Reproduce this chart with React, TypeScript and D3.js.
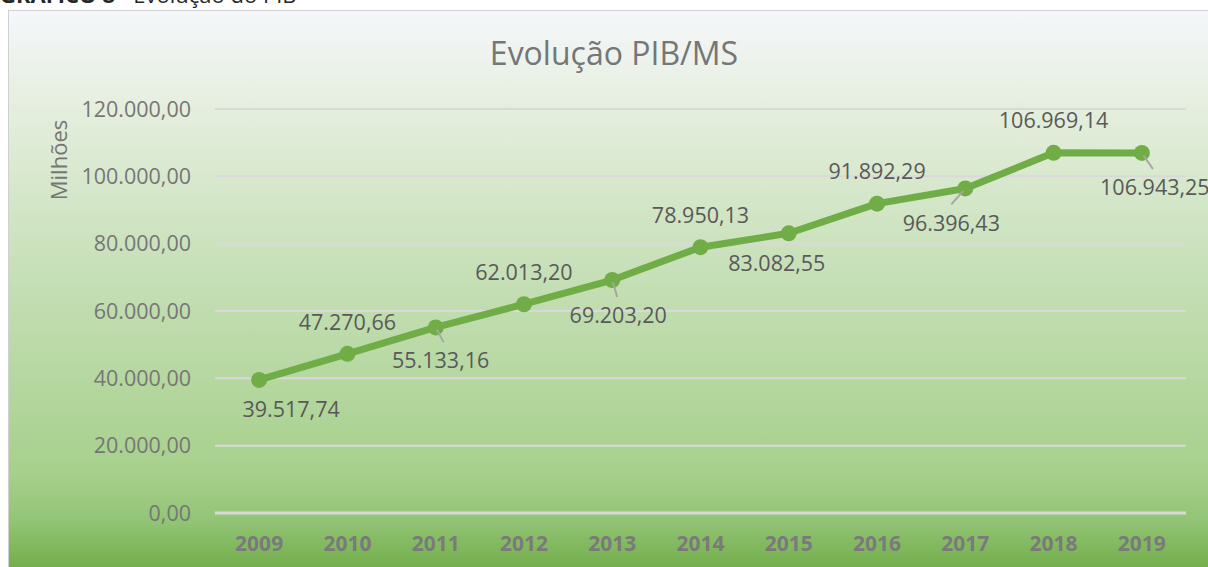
import React from "react";
import * as d3 from "d3";

const years = ["2009", "2010", "2011", "2012", "2013", "2014", "2015", "2016", "2017", "2018", "2019"];
const pib = [39517.74, 47270.66, 55133.16, 62013.2, 69203.2, 78950.13, 83082.55, 91892.29, 96396.43, 106969.14, 106943.25];
const yTicks = [0, 20000, 40000, 60000, 80000, 100000, 120000];
// label placement (style): offset of label centre from its point, and optional leader line end
const labelDx = [32, 0, 5, 0, 6, 0, -12, 0, -14, 0, 13];
const labelDy = [30, -31, 33, -32, 35, -32, 30, -32, 35, -32, 35];
const leader: ([number, number] | null)[] = [null, null, [8, 15], null, [5, 17], null, null, null, [-14, 16], null, [11, 16]];

const fmt = (v: number) => {
  const s = v.toFixed(2);
  const [i, d] = s.split(".");
  return i.replace(/\B(?=(\d{3})+(?!\d))/g, ".") + "," + d;
};

const W = 1208;
const H = 567;
const FONT = "'Open Sans', 'Noto Sans', sans-serif";

export default function App() {
  const x = d3.scaleBand<string>().domain(years).range([215, 1186]);
  const y = d3.scaleLinear().domain([0, 120000]).range([513, 109]);
  const cx = (i: number) => (x(years[i]) as number) + x.bandwidth() / 2;
  const line = d3
    .line<number>()
    .x((_, i) => cx(i))
    .y((d) => y(d));

  return (
    <svg
      width={W}
      height={H}
      style={{ position: "absolute", left: 0, top: 0, display: "block" }}
      fontFamily={FONT}
    >
      <defs>
        <linearGradient id="bg" gradientUnits="userSpaceOnUse" x1="0" y1="10" x2="0" y2="575">
          <stop offset="0" stopColor="#f5f7fb" />
          <stop offset="0.18" stopColor="#e4eedd" />
          <stop offset="0.5" stopColor="#c3deb3" />
          <stop offset="0.82" stopColor="#a7d08c" />
          <stop offset="0.9" stopColor="#93c577" />
          <stop offset="1" stopColor="#6fab45" />
        </linearGradient>
      </defs>
      <rect x={0} y={0} width={W} height={H} fill="#ffffff" />
      {/* caption, cut at the top edge as in the reference */}
      <text x={0} y={3} fontSize={22} fill="#262626" fontFamily="'Open Sans', sans-serif">
        <tspan fontWeight="bold">GRÁFICO 8</tspan>
        <tspan> - Evolução do PIB</tspan>
      </text>
      <rect x={8.5} y={10.5} width={W} height={H} fill="url(#bg)" stroke="#d0d0d0" strokeWidth={1} />

      <text x={614} y={65} textAnchor="middle" fontSize={32} fill="#767676">
        Evolução PIB/MS
      </text>

      <text
        transform={`translate(67,160) rotate(-90)`}
        textAnchor="middle"
        fontSize={22}
        fill="#767676"
      >
        Milhões
      </text>

      {yTicks.map((t) => (
        <g key={t}>
          <line
            x1={215}
            x2={1186}
            y1={y(t)}
            y2={y(t)}
            stroke="#d9d9d9"
            strokeWidth={t === 0 ? 3 : 2}
          />
          <text x={191} y={y(t)} dy="0.35em" textAnchor="end" fontSize={21.5} fill="#767676">
            {fmt(t)}
          </text>
        </g>
      ))}

      {years.map((yr, i) => (
        <text
          key={yr}
          x={cx(i)}
          y={544}
          dy="0.35em"
          textAnchor="middle"
          fontSize={21}
          fontWeight="bold"
          fill="#7a7a7a"
        >
          {yr}
        </text>
      ))}

      <path d={line(pib) || ""} fill="none" stroke="#70ad47" strokeWidth={7} strokeLinejoin="round" strokeLinecap="round" />
      {pib.map((v, i) => (
        <circle key={i} cx={cx(i)} cy={y(v)} r={8} fill="#70ad47" />
      ))}
      {pib.map((v, i) => {
        const l = leader[i];
        return l ? (
          <line
            key={"l" + i}
            x1={cx(i) + l[0] * 0.15}
            y1={y(v) + l[1] * 0.15}
            x2={cx(i) + l[0]}
            y2={y(v) + l[1]}
            stroke="#a6a6a6"
            strokeWidth={2}
          />
        ) : null;
      })}
      {pib.map((v, i) => (
        <text
          key={"t" + i}
          x={cx(i) + labelDx[i]}
          y={y(v) + labelDy[i]}
          dy="0.35em"
          textAnchor="middle"
          fontSize={21.5}
          fill="#595959"
        >
          {fmt(v)}
        </text>
      ))}
    </svg>
  );
}
